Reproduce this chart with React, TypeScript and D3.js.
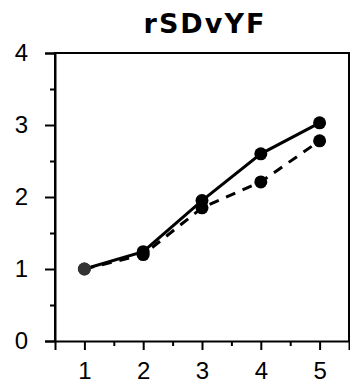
import { useEffect, useRef } from "react"
import * as d3 from "d3"

const title = "rSDvYF"
const xValues = [1, 2, 3, 4, 5]
const solidValues = [1.0, 1.24, 1.95, 2.6, 3.03]
const dashedValues = [1.0, 1.2, 1.85, 2.21, 2.78]
const yTicks = [0, 1, 2, 3, 4]

export default function App() {
  const svgRef = useRef<SVGSVGElement>(null)

  useEffect(() => {
    if (!svgRef.current) return
    const root = d3.select(svgRef.current)
    root.selectAll("*").remove()

    const margin = { top: 53, right: 1, bottom: 48, left: 55 }
    const width = 350 - margin.left - margin.right
    const height = 389 - margin.top - margin.bottom

    const svg = root
      .append("g")
      .attr("transform", `translate(${margin.left},${margin.top})`)

    const x = d3.scaleLinear().domain([0.5, 5.5]).range([0, width])
    const y = d3.scaleLinear().domain([0, 4]).range([height, 0])

    // title
    root
      .append("text")
      .attr("x", 205)
      .attr("y", 33)
      .attr("text-anchor", "middle")
      .attr("font-family", "DejaVu Sans")
      .attr("font-weight", "bold")
      .attr("font-size", 27)
      .attr("letter-spacing", 2)
      .text(title)

    // frame
    svg
      .append("path")
      .attr("d", `M0,${height}V0H${width}V${height}`)
      .attr("fill", "none")
      .attr("stroke", "#000")
      .attr("stroke-width", 2)

    const labelStyle = (g: any) =>
      g
        .selectAll("text")
        .attr("font-family", "Liberation Sans")
        .attr("font-size", 24)
        .attr("fill", "#000")

    // x axis: major + minor ticks
    svg
      .append("g")
      .attr("transform", `translate(0,${height})`)
      .call(
        d3
          .axisBottom(x)
          .tickValues(xValues)
          .tickSize(9)
          .tickPadding(12)
          .tickFormat(d3.format("d")),
      )
      .call((g) => g.select(".domain").attr("stroke-width", 2))
      .call((g) => g.selectAll(".tick line").attr("stroke-width", 2))
      .call(labelStyle)
    svg
      .append("g")
      .attr("transform", `translate(0,${height})`)
      .call(
        d3
          .axisBottom(x)
          .tickValues([1.5, 2.5, 3.5, 4.5])
          .tickSize(5)
          .tickFormat(() => ""),
      )
      .call((g) => g.select(".domain").remove())
      .call((g) => g.selectAll(".tick line").attr("stroke-width", 2))

    // y axis: major + minor ticks
    svg
      .append("g")
      .call(
        d3
          .axisLeft(y)
          .tickValues(yTicks)
          .tickSize(10)
          .tickPadding(17)
          .tickFormat(d3.format("d")),
      )
      .call((g) => g.select(".domain").attr("stroke-width", 2))
      .call((g) => g.selectAll(".tick line").attr("stroke-width", 2))
      .call(labelStyle)
    svg
      .append("g")
      .call(
        d3
          .axisLeft(y)
          .tickValues([0.5, 1.5, 2.5, 3.5])
          .tickSize(5)
          .tickFormat(() => ""),
      )
      .call((g) => g.select(".domain").remove())
      .call((g) => g.selectAll(".tick line").attr("stroke-width", 2))

    const series = [
      { values: dashedValues, dash: "10,8" },
      { values: solidValues, dash: null },
    ]

    series.forEach((s, i) => {
      const pts = xValues.map((v, j) => ({ x: v, y: s.values[j] }))
      const line = d3
        .line<{ x: number; y: number }>()
        .x((d) => x(d.x))
        .y((d) => y(d.y))

      svg
        .append("path")
        .datum(pts)
        .attr("fill", "none")
        .attr("stroke", "#000")
        .attr("stroke-width", 3)
        .attr("stroke-dasharray", s.dash)
        .attr("d", line)

      svg
        .selectAll(`.dot-${i}`)
        .data(pts)
        .enter()
        .append("circle")
        .attr("class", `dot-${i}`)
        .attr("cx", (d) => x(d.x))
        .attr("cy", (d) => y(d.y))
        .attr("r", 6.5)
        .attr("fill", (d) => (d.x === 1 ? "#333" : "#000"))
    })
  }, [])

  return (
    <div style={{ position: "absolute", left: 0, top: 0 }}>
      <svg ref={svgRef} width={350} height={389} style={{ display: "block" }} />
    </div>
  )
}
